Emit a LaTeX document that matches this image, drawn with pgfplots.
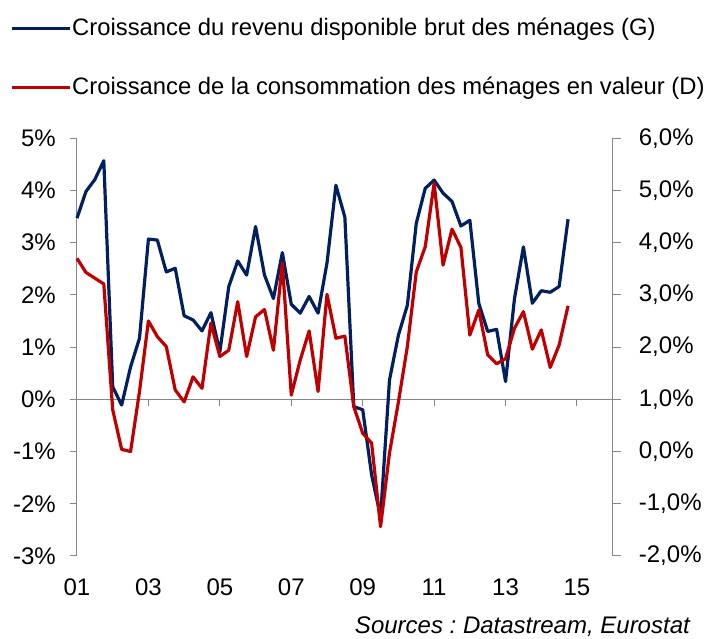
\documentclass[border=0pt]{standalone}
\usepackage{fontspec}
\setmainfont{Liberation Sans}
\usepackage{pgfplots}
\usepackage{pgfplotstable}
\pgfplotsset{compat=1.18}
\definecolor{cG}{RGB}{0,32,96}
\definecolor{cD}{RGB}{192,0,0}
\definecolor{axg}{RGB}{134,134,134}

\pgfplotstableread{
x y
2001.00 3.47
2001.25 3.98
2001.50 4.21
2001.75 4.57
2002.00 0.24
2002.25 -0.11
2002.50 0.62
2002.75 1.17
2003.00 3.07
2003.25 3.05
2003.50 2.44
2003.75 2.51
2004.00 1.60
2004.25 1.52
2004.50 1.31
2004.75 1.66
2005.00 0.91
2005.25 2.16
2005.50 2.65
2005.75 2.38
2006.00 3.31
2006.25 2.38
2006.50 1.93
2006.75 2.81
2007.00 1.82
2007.25 1.65
2007.50 1.97
2007.75 1.65
2008.00 2.61
2008.25 4.10
2008.50 3.49
2008.75 -0.14
2009.00 -0.20
2009.25 -1.45
2009.50 -2.25
2009.75 0.37
2010.00 1.23
2010.25 1.80
2010.50 3.37
2010.75 4.04
2011.00 4.20
2011.25 3.95
2011.50 3.79
2011.75 3.32
2012.00 3.43
2012.25 1.84
2012.50 1.30
2012.75 1.34
2013.00 0.34
2013.25 1.93
2013.50 2.92
2013.75 1.84
2014.00 2.08
2014.25 2.05
2014.50 2.16
2014.75 3.45
}\tblG

\pgfplotstableread{
x y
2001.00 3.70
2001.25 3.43
2001.50 3.32
2001.75 3.21
2002.00 0.80
2002.25 0.04
2002.50 0.00
2002.75 1.15
2003.00 2.50
2003.25 2.20
2003.50 2.01
2003.75 1.18
2004.00 0.95
2004.25 1.43
2004.50 1.21
2004.75 2.46
2005.00 1.82
2005.25 1.94
2005.50 2.87
2005.75 1.82
2006.00 2.58
2006.25 2.72
2006.50 1.94
2006.75 3.61
2007.00 1.08
2007.25 1.75
2007.50 2.31
2007.75 1.15
2008.00 3.01
2008.25 2.17
2008.50 2.21
2008.75 0.86
2009.00 0.35
2009.25 0.16
2009.50 -1.44
2009.75 -0.03
2010.00 0.95
2010.25 2.01
2010.50 3.44
2010.75 3.92
2011.00 5.14
2011.25 3.57
2011.50 4.26
2011.75 3.91
2012.00 2.23
2012.25 2.71
2012.50 1.85
2012.75 1.68
2013.00 1.78
2013.25 2.36
2013.50 2.68
2013.75 1.96
2014.00 2.33
2014.25 1.61
2014.50 2.04
2014.75 2.79
}\tblD

\begin{document}
\frenchspacing
\fontsize{24}{28}\selectfont
\begin{tikzpicture}
\useasboundingbox (0pt,0pt) rectangle (707pt,639pt);
\begin{axis}[
  at={(77pt,83.1pt)}, anchor=south west,
  scale only axis, width=535.7pt, height=417.6pt,
  xmin=2001, xmax=2016, ymin=-3, ymax=5,
  axis y line*=left, axis x line*=bottom,
  x axis line style={draw=none},
  y axis line style={axg, line width=1pt},
  xtick={2001,2003,2005,2007,2009,2011,2013,2015},
  xticklabels={01,03,05,07,09,11,13,15},
  xtick style={draw=none},
  ytick={-3,-2,-1,0,1,2,3,4,5},
  yticklabels={-3\%,-2\%,-1\%,0\%,1\%,2\%,3\%,4\%,5\%},
  ytick style={axg, line width=1pt},
  tick align=outside, major tick length=7pt,
  ticklabel style={font=\fontsize{24}{28}\selectfont, text=black},
  xticklabel style={yshift=-8pt},
  yticklabel style={xshift=-6pt},
  clip=false,
]
\draw[axg, line width=1pt] (axis cs:2001,0) -- (axis cs:2016,0);
\draw[axg, line width=1pt] (axis cs:2003,0) -- ++(0pt,-7pt);
\draw[axg, line width=1pt] (axis cs:2005,0) -- ++(0pt,-7pt);
\draw[axg, line width=1pt] (axis cs:2007,0) -- ++(0pt,-7pt);
\draw[axg, line width=1pt] (axis cs:2009,0) -- ++(0pt,-7pt);
\draw[axg, line width=1pt] (axis cs:2011,0) -- ++(0pt,-7pt);
\draw[axg, line width=1pt] (axis cs:2013,0) -- ++(0pt,-7pt);
\draw[axg, line width=1pt] (axis cs:2015,0) -- ++(0pt,-7pt);
\addplot[cG, line width=3.2pt, line join=round, mark=none] table[x=x,y=y] {\tblG};
\end{axis}
\begin{axis}[
  at={(77pt,83.1pt)}, anchor=south west,
  scale only axis, width=535.7pt, height=417.6pt,
  xmin=2001, xmax=2016, ymin=-2, ymax=6,
  axis x line=none, axis y line*=right,
  y axis line style={axg, line width=1pt},
  ytick={-2,-1,0,1,2,3,4,5,6},
  yticklabels={{-2,0\%},{-1,0\%},{0,0\%},{1,0\%},{2,0\%},{3,0\%},{4,0\%},{5,0\%},{6,0\%}},
  ytick style={axg, line width=1pt},
  tick align=outside, major tick length=8pt,
  ticklabel style={font=\fontsize{24}{28}\selectfont, text=black},
  yticklabel style={xshift=10pt},
  clip=false,
  legend style={at={(axis description cs:-0.1250,1.288)}, anchor=north west,
    draw=none, fill=none, inner sep=0pt, outer sep=0pt, row sep=38pt, column sep=1pt,
    nodes={inner sep=0pt, font=\fontsize{23.8}{28}\selectfont}},
  legend cell align=left,
  legend image code/.code={\draw[#1] (0pt,0pt) -- (58pt,0pt);},
]
\addlegendimage{cG, line width=3.2pt}
\addlegendentry{Croissance du revenu disponible brut des ménages (G)}
\addplot[cD, line width=3.2pt, line join=round, mark=none] table[x=x,y=y] {\tblD};
\addlegendentry{Croissance de la consommation des ménages en valeur (D)}
\end{axis}
\node[anchor=base east, inner sep=0pt, font=\fontsize{24}{28}\selectfont\itshape] at (690pt,5.5pt) {Sources : Datastream, Eurostat};
\end{tikzpicture}
\end{document}
